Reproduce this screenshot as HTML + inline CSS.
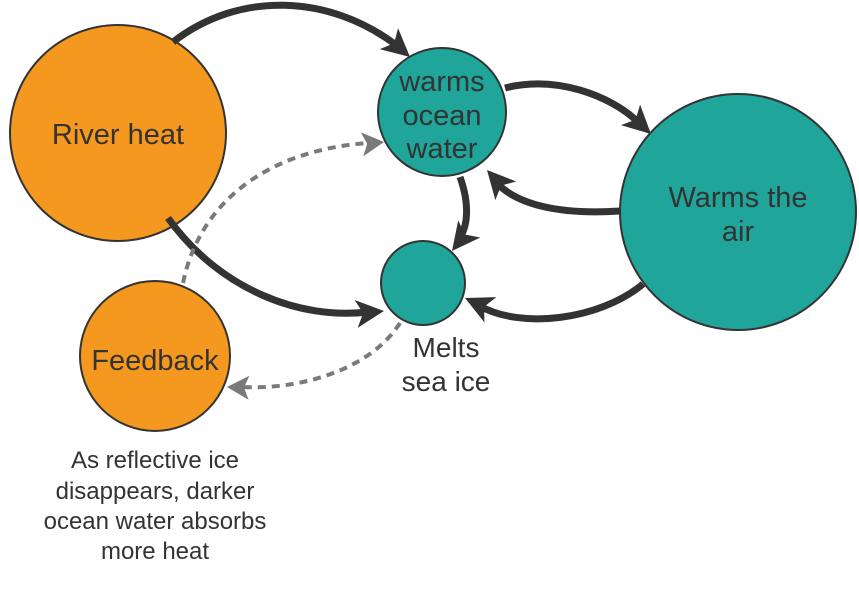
<!DOCTYPE html>
<html><head><style>
body{margin:0;background:#fff;}
svg{display:block;}
text{font-family:"Liberation Sans",Arial,sans-serif;fill:#333;}
</style></head><body>
<svg width="859" height="604" viewBox="0 0 859 604" xmlns="http://www.w3.org/2000/svg">
<circle cx="118" cy="133" r="108" fill="#F5981F" stroke="#333" stroke-width="2"/>
<circle cx="155" cy="356" r="75" fill="#F5981F" stroke="#333" stroke-width="2"/>
<circle cx="442" cy="112" r="64" fill="#1FA599" stroke="#333" stroke-width="2"/>
<circle cx="423" cy="283" r="42" fill="#1FA599" stroke="#333" stroke-width="2"/>
<circle cx="738" cy="212" r="118" fill="#1FA599" stroke="#333" stroke-width="2"/>
<g fill="none" stroke="#333" stroke-width="7">
<path d="M173,42 C240,-10 330,-5 396,45"/>
<path d="M168,218 C220,290 300,320 368,312"/>
<path d="M460,177 C470,205 468,228 458,240"/>
<path d="M505,88 C555,75 610,95 638,122"/>
<path d="M620,211 C560,215 515,205 494,180"/>
<path d="M643,284 C600,320 520,330 478,305"/>
</g>
<g fill="#333">
<path d="M0,0 L-28,-14 L-21,0 L-28,14Z" transform="translate(410,57) rotate(41)"/>
<path d="M0,0 L-28,-14 L-21,0 L-28,14Z" transform="translate(384,311) rotate(-6)"/>
<path d="M0,0 L-28,-14 L-21,0 L-28,14Z" transform="translate(452,251) rotate(128)"/>
<path d="M0,0 L-28,-14 L-21,0 L-28,14Z" transform="translate(651,134) rotate(43)"/>
<path d="M0,0 L-28,-14 L-21,0 L-28,14Z" transform="translate(487,170) rotate(228)"/>
<path d="M0,0 L-28,-14 L-21,0 L-28,14Z" transform="translate(465,298) rotate(205)"/>
</g>
<g fill="none" stroke="#7a7a7a" stroke-width="4" stroke-dasharray="8 6">
<path d="M183,283 C200,200 270,150 368,143"/>
<path d="M400,323 C370,370 300,390 242,387"/>
</g>
<g fill="#7a7a7a">
<path d="M0,0 L-22,-12 L-17,0 L-22,12Z" transform="translate(384,142) rotate(-6)"/>
<path d="M0,0 L-22,-12 L-17,0 L-22,12Z" transform="translate(227,387) rotate(182)"/>
</g>
<text x="118" y="144" font-size="29" text-anchor="middle">River heat</text>
<text x="155" y="370" font-size="29" text-anchor="middle">Feedback</text>
<text x="442" y="91" font-size="29" text-anchor="middle">warms</text>
<text x="442" y="125" font-size="29" text-anchor="middle">ocean</text>
<text x="442" y="158" font-size="29" text-anchor="middle">water</text>
<text x="738" y="207" font-size="29" text-anchor="middle">Warms the</text>
<text x="738" y="241" font-size="29" text-anchor="middle">air</text>
<text x="446" y="357" font-size="28" text-anchor="middle">Melts</text>
<text x="446" y="391" font-size="28" text-anchor="middle">sea ice</text>
<g font-size="24" text-anchor="middle">
<text x="155" y="468">As reflective ice</text>
<text x="155" y="499">disappears, darker</text>
<text x="155" y="529">ocean water absorbs</text>
<text x="155" y="559">more heat</text>
</g>
</svg>
</body></html>
